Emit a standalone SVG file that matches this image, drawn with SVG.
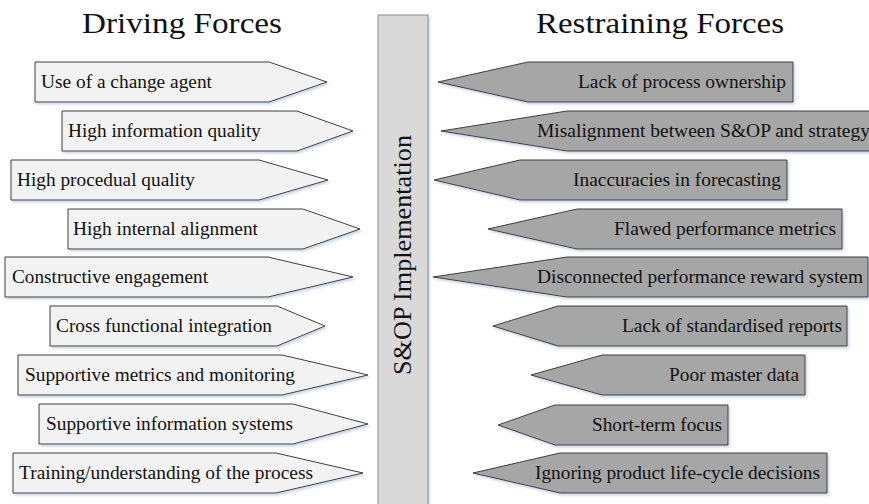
<svg xmlns="http://www.w3.org/2000/svg" width="869" height="504" viewBox="0 0 869 504">
<defs>
<filter id="sh" x="-5%" y="-10%" width="115%" height="140%">
<feDropShadow dx="1.5" dy="2" stdDeviation="1.2" flood-color="#8fa6c4" flood-opacity="0.45"/>
</filter>
<style>
.t{font-family:"Liberation Serif","Times New Roman",serif;fill:#111}
.title{font-size:29px}
.lbl{font-size:18.5px}
.drv{fill:#f2f2f2;stroke:#3f3f3f;stroke-width:1;filter:url(#sh)}
.rst{fill:#a6a6a6;stroke:#3f3f3f;stroke-width:1;filter:url(#sh)}
.bar{fill:#d9d9d9;stroke:#8c8c8c;stroke-width:1;filter:url(#sh)}
</style>
</defs>
<rect width="869" height="504" fill="#ffffff"/>
<g id="titles">
<text class="t title" x="82" y="33" textLength="200" lengthAdjust="spacingAndGlyphs">Driving Forces</text>
<text class="t title" x="536" y="33" textLength="248" lengthAdjust="spacingAndGlyphs">Restraining Forces</text>
</g>
<g id="center">
<rect class="bar" x="378" y="15" width="50" height="490"/>
<text class="t" font-size="26" transform="translate(411,375) rotate(-90)" textLength="240" lengthAdjust="spacingAndGlyphs">S&amp;OP Implementation</text>
</g>
<g id="connectors"></g>
<g id="driving">
<g id="d1"><polygon class="drv" points="35,62 269,62 327,82 269,102 35,102"/><text class="t lbl" x="41" y="88" textLength="171" lengthAdjust="spacingAndGlyphs">Use of a change agent</text></g>
<g id="d2"><polygon class="drv" points="62,111 297,111 353,131 297,151 62,151"/><text class="t lbl" x="68" y="137" textLength="193" lengthAdjust="spacingAndGlyphs">High information quality</text></g>
<g id="d3"><polygon class="drv" points="11,160 259,160 328,180 259,200 11,200"/><text class="t lbl" x="17" y="186" textLength="178" lengthAdjust="spacingAndGlyphs">High procedual quality</text></g>
<g id="d4"><polygon class="drv" points="68,209 303,209 360,229 303,249 68,249"/><text class="t lbl" x="73" y="235" textLength="185" lengthAdjust="spacingAndGlyphs">High internal alignment</text></g>
<g id="d5"><polygon class="drv" points="5,257 268,257 353,277 268,297 5,297"/><text class="t lbl" x="12" y="283" textLength="196" lengthAdjust="spacingAndGlyphs">Constructive engagement</text></g>
<g id="d6"><polygon class="drv" points="50,306 277,306 325,326 277,346 50,346"/><text class="t lbl" x="56" y="332" textLength="216" lengthAdjust="spacingAndGlyphs">Cross functional integration</text></g>
<g id="d7"><polygon class="drv" points="18,355 282,355 368,375 282,395 18,395"/><text class="t lbl" x="25" y="381" textLength="270" lengthAdjust="spacingAndGlyphs">Supportive metrics and monitoring</text></g>
<g id="d8"><polygon class="drv" points="39,404 293,404 368,424 293,444 39,444"/><text class="t lbl" x="46" y="430" textLength="247" lengthAdjust="spacingAndGlyphs">Supportive information systems</text></g>
<g id="d9"><polygon class="drv" points="13,453 276,453 363,473 276,493 13,493"/><text class="t lbl" x="19" y="479" textLength="294" lengthAdjust="spacingAndGlyphs">Training/understanding of the process</text></g>
</g>
<g id="restraining">
<g id="r1"><polygon class="rst" points="438,82 528,62 793,62 793,102 528,102"/><text class="t lbl" x="578" y="88" textLength="208" lengthAdjust="spacingAndGlyphs">Lack of process ownership</text></g>
<g id="r2"><polygon class="rst" points="441,131 567,111 875,111 875,151 567,151"/><text class="t lbl" x="537" y="137" textLength="333" lengthAdjust="spacingAndGlyphs">Misalignment between S&amp;OP and strategy</text></g>
<g id="r3"><polygon class="rst" points="434,180 520,160 787,160 787,200 520,200"/><text class="t lbl" x="573" y="186" textLength="208" lengthAdjust="spacingAndGlyphs">Inaccuracies in forecasting</text></g>
<g id="r4"><polygon class="rst" points="488,229 577,209 842,209 842,249 577,249"/><text class="t lbl" x="614" y="235" textLength="222" lengthAdjust="spacingAndGlyphs">Flawed performance metrics</text></g>
<g id="r5"><polygon class="rst" points="433,277 567,257 868,257 868,297 567,297"/><text class="t lbl" x="537" y="283" textLength="326" lengthAdjust="spacingAndGlyphs">Disconnected performance reward system</text></g>
<g id="r6"><polygon class="rst" points="493,326 558,306 847,306 847,346 558,346"/><text class="t lbl" x="622" y="332" textLength="220" lengthAdjust="spacingAndGlyphs">Lack of standardised reports</text></g>
<g id="r7"><polygon class="rst" points="531,375 602,355 805,355 805,395 602,395"/><text class="t lbl" x="669" y="381" textLength="130" lengthAdjust="spacingAndGlyphs">Poor master data</text></g>
<g id="r8"><polygon class="rst" points="498,425 555,405 728,405 728,445 555,445"/><text class="t lbl" x="592" y="431" textLength="130" lengthAdjust="spacingAndGlyphs">Short-term focus</text></g>
<g id="r9"><polygon class="rst" points="473,473 560,453 827,453 827,493 560,493"/><text class="t lbl" x="535" y="479" textLength="285" lengthAdjust="spacingAndGlyphs">Ignoring product life-cycle decisions</text></g>
</g>
</svg>
